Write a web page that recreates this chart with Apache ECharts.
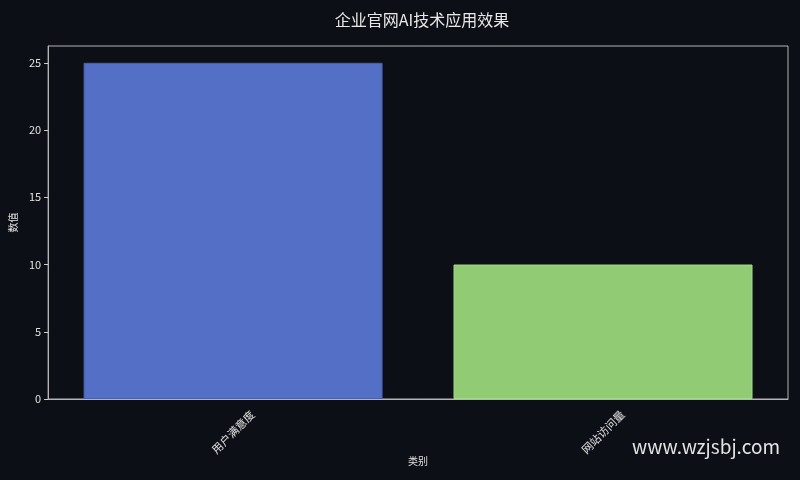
<!DOCTYPE html>
<html>
<head>
<meta charset="utf-8">
<script src="https://cdn.jsdelivr.net/npm/echarts@6/dist/echarts.min.js"></script>
<style>
  html, body { margin: 0; padding: 0; background: #0c0f16; }
  #main { width: 800px; height: 480px; }
</style>
</head>
<body>
<div id="main"></div>
<script>
var categories = ['用户满意度', '网站访问量'];
var values = [25, 10];
var barColors = ['#5470c6', '#91cc75'];
var yTicks = [0, 5, 10, 15, 20, 25];

var chartDom = document.getElementById('main');
var myChart = echarts.init(chartDom, null, { renderer: 'canvas' });
var option;

var fontFamily = '"Noto Sans CJK SC", "DejaVu Sans", sans-serif';

option = {
    backgroundColor: '#0c0f16',
    textStyle: { fontFamily: fontFamily },
    title: {
        text: '企业官网AI技术应用效果',
        left: 417,
        top: 7,
        textAlign: 'center',
        textStyle: {
            color: '#e8e8e8',
            fontSize: 16,
            fontWeight: 'normal',
            fontFamily: fontFamily
        }
    },
    grid: {
        left: 46,
        right: 12,
        top: 46,
        bottom: 81,
        show: true,
        borderColor: '#b4b4b4',
        borderWidth: 1,
        backgroundColor: 'transparent'
    },
    xAxis: {
        type: 'category',
        data: categories,
        name: '类别',
        nameLocation: 'middle',
        nameGap: 57,
        nameMoveOverlap: false,
        nameTextStyle: { color: '#e0e0e0', fontSize: 10 },
        axisLine: { lineStyle: { color: '#b4b4b4', width: 1 } },
        axisTick: { alignWithLabel: true, length: 4, lineStyle: { color: '#d0d0d0' } },
        axisLabel: {
            rotate: 45,
            align: 'center',
            verticalAlign: 'middle',
            color: '#e0e0e0',
            fontSize: 11,
            margin: 33
        }
    },
    yAxis: {
        type: 'value',
        min: 0,
        max: 26.25,
        interval: 5,
        name: '数值',
        nameLocation: 'middle',
        nameGap: 28,
        nameTextStyle: { color: '#e0e0e0', fontSize: 10 },
        axisLine: { show: true, lineStyle: { color: '#b4b4b4', width: 1 } },
        axisTick: { show: true, length: 4, lineStyle: { color: '#d0d0d0' } },
        splitLine: { show: false },
        axisLabel: {
            color: '#e0e0e0',
            fontSize: 11,
            margin: 7,
            showMaxLabel: false,
            formatter: function (v) {
                return yTicks.indexOf(v) >= 0 ? String(v) : '';
            }
        }
    },
    graphic: [{
        type: 'text',
        right: 20,
        top: 437,
        style: {
            text: 'www.wzjsbj.com',
            fill: '#e4e4e4',
            fontSize: 19,
            fontFamily: fontFamily
        }
    }],
    series: [
        {
            type: 'bar',
            barWidth: 299,
            data: values.map(function (v, i) {
                return {
                    value: v,
                    itemStyle: {
                        color: barColors[i],
                        borderColor: i === 0 ? '#4a60a8' : '#a7d98e',
                        borderWidth: 1
                    }
                };
            })
        }
    ]
};

option && myChart.setOption(option);
</script>
</body>
</html>
